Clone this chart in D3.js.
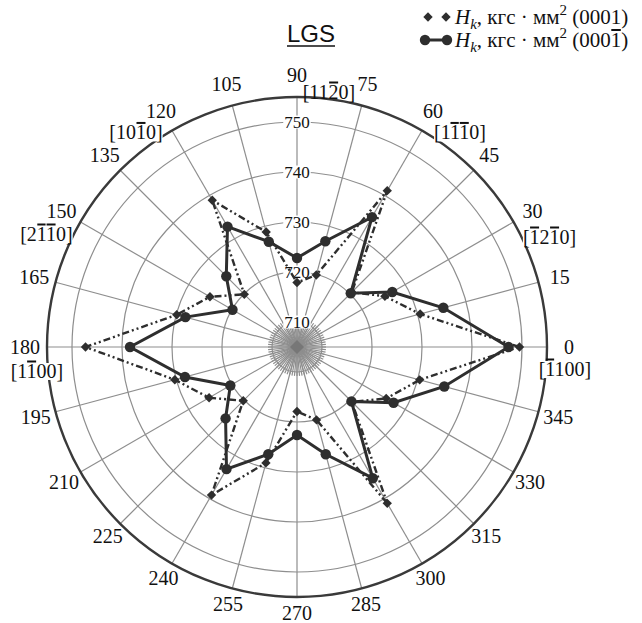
<!DOCTYPE html>
<html>
<head>
<meta charset="utf-8">
<script src="https://cdn.jsdelivr.net/npm/d3@7"></script>
<style>
body { margin: 0; background: #fff; }
text { font-family: "Liberation Serif", "Times New Roman", serif; fill: #111; }
</style>
</head>
<body>
<script>

// angles of the measurements, degrees
var angles = [0, 15, 30, 45, 60, 75, 90, 105, 120, 135, 150, 165,
              180, 195, 210, 225, 240, 255, 270, 285, 300, 315, 330, 345];

// Hk (0001), dash-dot line with diamonds
var hkTop = [749.5, 730.5, 725.3, 720.5, 741.1, 719.9, 717.9, 728.8, 738.9, 719.9, 725.1, 729.9,
             747.3, 730.3, 725.3, 720.2, 739.2, 729.0, 717.9, 720.1, 741.1, 720.5, 725.6, 730.4];

// Hk (000-1), solid line with circles
var hkBottom = [747.3, 735.3, 727.0, 720.2, 735.0, 726.9, 722.8, 726.8, 732.8, 725.0, 719.9, 728.1,
                738.4, 728.2, 720.4, 725.2, 733.2, 727.2, 722.6, 727.2, 735.3, 720.4, 727.3, 735.5];

var ringTicks = [710, 720, 730, 740, 750];

// direction labels, the digit positions that carry an overbar
var millerAngles = [0, 30, 60, 90, 120, 150, 180];
var millerText = ['[1100]', '[1210]', '[1110]', '[1120]', '[1010]', '[2110]', '[1100]'];
var millerBars = [[1], [1, 3], [2, 3], [3], [3], [2, 3], [2]];

var width = 642, height = 623;
var cx = 297, cy = 347;
var ink = '#2e2e2e';

var svg = d3.select('body').append('svg')
  .attr('width', width)
  .attr('height', height);

var r = d3.scaleLinear().domain([705, 755]).range([0, 250]);

function pt(deg, rad) {
  var t = deg * Math.PI / 180;
  return [cx + rad * Math.cos(t), cy - rad * Math.sin(t)];
}

// grid
var grid = svg.append('g').attr('fill', 'none').attr('stroke', '#8e8e8e').attr('stroke-width', 1.2);

grid.selectAll('line.minor')
  .data(d3.range(0, 360, 5))
  .enter().append('line')
  .attr('class', 'minor')
  .attr('x1', cx).attr('y1', cy)
  .attr('x2', function(d){ return pt(d, r(710) + 4)[0]; })
  .attr('y2', function(d){ return pt(d, r(710) + 4)[1]; });

grid.selectAll('line.spoke')
  .data(angles)
  .enter().append('line')
  .attr('class', 'spoke')
  .attr('x1', cx).attr('y1', cy)
  .attr('x2', function(d){ return pt(d, r(755))[0]; })
  .attr('y2', function(d){ return pt(d, r(755))[1]; });

grid.selectAll('circle')
  .data(ringTicks)
  .enter().append('circle')
  .attr('cx', cx).attr('cy', cy)
  .attr('r', function(d){ return r(d); });

svg.append('path')
  .attr('d', 'M' + cx + ',' + (cy - 7) + 'L' + (cx + 7) + ',' + cy + 'L' + cx + ',' + (cy + 7) + 'L' + (cx - 7) + ',' + cy + 'Z')
  .attr('fill', '#777');

svg.append('circle')
  .attr('cx', cx).attr('cy', cy).attr('r', r(755))
  .attr('fill', 'none').attr('stroke', '#3a3a3a').attr('stroke-width', 2.4);

// ring value labels with white backing
var ringLab = svg.selectAll('g.ring')
  .data(ringTicks)
  .enter().append('g').attr('class', 'ring');
ringLab.append('rect').attr('fill', '#fff');
ringLab.append('text')
  .attr('x', cx)
  .attr('y', function(d){ return cy - r(d); })
  .attr('text-anchor', 'middle')
  .attr('dominant-baseline', 'central')
  .attr('font-size', 17)
  .text(function(d){ return d; });
ringLab.each(function(){
  var g = d3.select(this);
  var b = g.select('text').node().getBBox();
  g.select('rect').attr('x', b.x - 1).attr('y', b.y + 3).attr('width', b.width + 2).attr('height', b.height - 6);
});

// series
var line = d3.line()
  .x(function(d){ return pt(d[0], r(d[1]))[0]; })
  .y(function(d){ return pt(d[0], r(d[1]))[1]; })
  .curve(d3.curveLinearClosed);

var topPts = angles.map(function(a, i){ return [a, hkTop[i]]; });
var botPts = angles.map(function(a, i){ return [a, hkBottom[i]]; });

svg.append('path')
  .attr('d', line(topPts))
  .attr('fill', 'none').attr('stroke', ink).attr('stroke-width', 2.4)
  .attr('stroke-dasharray', '7,3,2,3,2,3');

svg.append('path')
  .attr('d', line(botPts))
  .attr('fill', 'none').attr('stroke', ink).attr('stroke-width', 3);

var diamond = d3.symbol().type(d3.symbolSquare).size(44);

svg.selectAll('path.dia')
  .data(topPts)
  .enter().append('path')
  .attr('class', 'dia')
  .attr('d', diamond)
  .attr('fill', ink)
  .attr('transform', function(d){ var p = pt(d[0], r(d[1])); return 'translate(' + p[0] + ',' + p[1] + ') rotate(45)'; });

svg.selectAll('circle.dot')
  .data(botPts)
  .enter().append('circle')
  .attr('class', 'dot')
  .attr('r', 5.2)
  .attr('fill', ink)
  .attr('cx', function(d){ return pt(d[0], r(d[1]))[0]; })
  .attr('cy', function(d){ return pt(d[0], r(d[1]))[1]; });

// angle labels
function labelPos(a) {
  var s = Math.sin(a * Math.PI / 180);
  var rad = 272 - (s < 0 ? -s * 6 : 0);
  return pt(a, rad);
}

svg.selectAll('text.ang')
  .data(angles)
  .enter().append('text')
  .attr('class', 'ang')
  .attr('x', function(d){ return labelPos(d)[0]; })
  .attr('y', function(d){ return labelPos(d)[1]; })
  .attr('text-anchor', 'middle')
  .attr('dominant-baseline', 'central')
  .attr('font-size', 20)
  .text(function(d){ return d; });

var millerShift = {0: [-4, 22], 30: [17, 26], 60: [27, 21], 90: [32, 17], 120: [-25, 21], 150: [-15, 23], 180: [12, 24]};

millerAngles.forEach(function(a, i){
  var p = labelPos(a);
  var off = millerShift[a];
  var g = svg.append('g');
  var bg = g.append('rect').attr('fill', '#fff');
  var t = g.append('text')
    .attr('x', p[0] + off[0])
    .attr('y', p[1] + off[1])
    .attr('text-anchor', 'middle')
    .attr('dominant-baseline', 'central')
    .attr('font-size', 20)
    .text(millerText[i]);
  var b = t.node().getBBox();
  if (a !== 90) bg.attr('x', b.x).attr('y', b.y + 3).attr('width', b.width).attr('height', b.height - 5);
  millerBars[i].forEach(function(k){
    var e = t.node().getExtentOfChar(k);
    g.append('line')
      .attr('x1', e.x + 0.5).attr('x2', e.x + e.width - 0.5)
      .attr('y1', e.y + 1.5).attr('y2', e.y + 1.5)
      .attr('stroke', '#111').attr('stroke-width', 2);
  });
});

// title
var title = svg.append('text')
  .attr('x', 311).attr('y', 42)
  .attr('text-anchor', 'middle')
  .attr('font-size', 24)
  .style('font-family', '"Liberation Sans", Arial, sans-serif')
  .text('LGS');
var tb = title.node().getBBox();
svg.append('line')
  .attr('x1', tb.x).attr('x2', tb.x + tb.width)
  .attr('y1', 46).attr('y2', 46)
  .attr('stroke', '#111').attr('stroke-width', 1.5);

// legend
function legendText(y, plane, barLast) {
  var t = svg.append('text').attr('x', 455).attr('y', y).attr('font-size', 21);
  t.append('tspan').attr('font-style', 'italic').text('H');
  t.append('tspan').attr('font-style', 'italic').attr('font-size', 15).attr('dy', 5).text('k');
  t.append('tspan').attr('dy', -5).text(', кгс · мм');
  t.append('tspan').attr('font-size', 15).attr('dy', -9).text('2');
  t.append('tspan').attr('dy', 9).text(' (' + plane + ')');
  if (barLast) {
    var n = t.text().length;
    var e = t.node().getExtentOfChar(n - 2);
    svg.append('line')
      .attr('x1', e.x + 0.5).attr('x2', e.x + e.width - 0.5)
      .attr('y1', e.y + 2).attr('y2', e.y + 2)
      .attr('stroke', '#111').attr('stroke-width', 2);
  }
}

svg.selectAll('path.legdia')
  .data([428, 446])
  .enter().append('path')
  .attr('d', diamond)
  .attr('fill', ink)
  .attr('transform', function(d){ return 'translate(' + d + ',17) rotate(45)'; });
legendText(24, '0001', false);

svg.append('line')
  .attr('x1', 425).attr('x2', 447).attr('y1', 40).attr('y2', 40)
  .attr('stroke', ink).attr('stroke-width', 3);
svg.selectAll('circle.legdot')
  .data([425, 447])
  .enter().append('circle')
  .attr('r', 5.2).attr('fill', ink)
  .attr('cx', function(d){ return d; }).attr('cy', 40);
legendText(47, '0001', true);

</script>
</body>
</html>
